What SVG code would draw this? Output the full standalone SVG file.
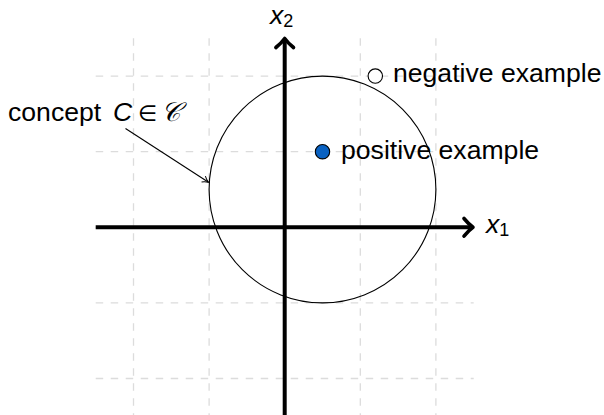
<svg xmlns="http://www.w3.org/2000/svg" width="604" height="415" viewBox="0 0 604 415">
<style>
.grid{stroke:#dcdcdc;stroke-width:1.3;stroke-dasharray:7.5 7.5;fill:none}
.axis{stroke:#000;stroke-width:4;fill:none}
.head{stroke:#000;stroke-width:3.6;fill:none;stroke-linecap:round;stroke-linejoin:round}
.t{font-family:"Liberation Sans",Arial,sans-serif;font-size:26.6px;fill:#000}
.m{font-style:italic}
.thin{stroke:#000;stroke-width:1.1;fill:none}
</style>
<defs>
<marker id="tip" markerWidth="10" markerHeight="10" refX="7" refY="5" orient="auto" markerUnits="userSpaceOnUse">
<path d="M1,1.5 Q4,4 7,5 Q4,6 1,8.5" stroke="#000" stroke-width="1" fill="none"/>
</marker>
</defs>
<g id="grid">
<line class="grid" x1="133.5" y1="38.3" x2="133.5" y2="416.3"/>
<line class="grid" x1="209.1" y1="38.3" x2="209.1" y2="416.3"/>
<line class="grid" x1="284.7" y1="38.3" x2="284.7" y2="416.3"/>
<line class="grid" x1="360.3" y1="38.3" x2="360.3" y2="416.3"/>
<line class="grid" x1="435.9" y1="38.3" x2="435.9" y2="416.3"/>
<line class="grid" x1="95.7" y1="76.1" x2="473.7" y2="76.1"/>
<line class="grid" x1="95.7" y1="151.7" x2="473.7" y2="151.7"/>
<line class="grid" x1="95.7" y1="227.3" x2="473.7" y2="227.3"/>
<line class="grid" x1="95.7" y1="302.9" x2="473.7" y2="302.9"/>
<line class="grid" x1="95.7" y1="378.5" x2="473.7" y2="378.5"/>
</g>
<g id="axes">
<line class="axis" x1="95.7" y1="227.3" x2="470.5" y2="227.3"/>
<path class="head" d="M464,218.5 Q469,224.5 473,227.3 Q469,230.1 464,236.1"/>
<line class="axis" x1="284.7" y1="418" x2="284.7" y2="41"/>
<path class="head" d="M275.9,47.5 Q281.9,42.5 284.7,38.5 Q287.5,42.5 293.5,47.5"/>
<text class="t m" x="486" y="233">x<tspan font-size="18" font-style="normal" dy="3">1</tspan></text>
<text class="t m" x="270" y="24">x<tspan font-size="18" font-style="normal" dy="3">2</tspan></text>
</g>
<g id="concept">
<circle class="thin" cx="322.5" cy="189.5" r="113.4"/>
</g>
<g id="connectors">
<line class="thin" x1="125.5" y1="128.5" x2="208.5" y2="182.3" marker-end="url(#tip)"/>
</g>
<g id="label-concept">
<text class="t" x="8" y="121">concept <tspan class="m" x="113">C</tspan><tspan x="138" font-family="DejaVu Sans" font-size="22">∈</tspan><tspan x="161" font-family="DejaVu Serif" font-style="italic">𝒞</tspan></text>
</g>
<g id="negative">
<circle cx="375.3" cy="76.1" r="7.2" fill="#fff" stroke="#000" stroke-width="1.1"/>
<text class="t" x="393" y="82">negative example</text>
</g>
<g id="positive">
<circle cx="322.5" cy="151.7" r="7.2" fill="#0a62c2" stroke="#000" stroke-width="1.1"/>
<text class="t" x="341" y="159">positive example</text>
</g>
</svg>
